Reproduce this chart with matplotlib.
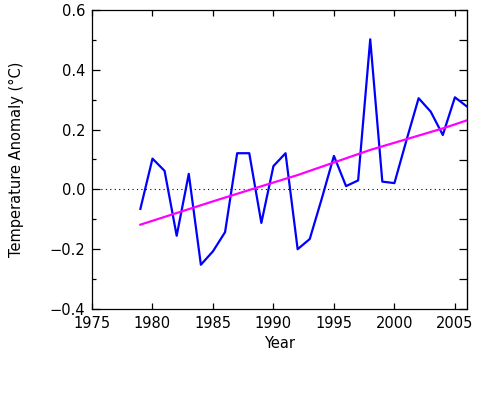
import numpy as np
import matplotlib
matplotlib.use('Agg')
import matplotlib.pyplot as plt

# yearly temperature anomaly
years = list(range(1979, 2007))
anomaly = [-0.065, 0.103, 0.062, -0.155, 0.052, -0.252, -0.207, -0.143,
           0.121, 0.121, -0.112, 0.078, 0.121, -0.200, -0.166, -0.030,
           0.112, 0.011, 0.030, 0.502, 0.026, 0.021, 0.165, 0.305,
           0.260, 0.182, 0.308, 0.277]

# trend curve, sampled points
trend_years = [1979, 1985, 1988, 1992, 1998, 2004, 2006]
trend_vals = [-0.118, -0.040, -0.002, 0.048, 0.132, 0.204, 0.231]

x_ticks = [1975, 1980, 1985, 1990, 1995, 2000, 2005]
y_ticks = [-0.4, -0.2, 0.0, 0.2, 0.4, 0.6]

plt.rcParams['font.family'] = ['DejaVu Sans']
fig = plt.figure(figsize=(5, 4), dpi=100)
ax = fig.add_axes([0.184, 0.2275, 0.75, 0.7475])

ax.axhline(0.0, color='black', lw=0.8, ls=(0, (1, 3)))
ax.plot(years, anomaly, color='#0000ff', lw=1.6)
ax.plot(trend_years, trend_vals, color='#ff00ff', lw=1.6)

ax.set_xlim(1975, 2006)
ax.set_ylim(-0.4, 0.6)
ax.set_xticks(x_ticks)
ax.set_yticks(y_ticks)
ax.set_yticks(np.arange(-0.3, 0.6, 0.2), minor=True)
ax.set_yticklabels([('%.1f' % v).replace('-', '\u2212') for v in y_ticks])
ax.tick_params(which='both', direction='in', top=True, right=False,
               labelsize=10.5, colors='black', width=0.9)
ax.tick_params(axis='x', which='major', length=4.5, pad=5)
ax.tick_params(axis='y', which='major', length=6, pad=5)
ax.tick_params(axis='y', which='minor', length=3)

sec = ax.secondary_yaxis('right')
sec.set_yticks(np.arange(-0.4, 0.61, 0.1))
sec.tick_params(direction='in', length=6, labelright=False, width=0.9)

for s in ax.spines.values():
    s.set_linewidth(0.9)

ax.set_xlabel('Year', fontsize=10.5, labelpad=4)
ax.set_ylabel('Temperature Anomaly (\u00b0C)', fontsize=10.5, labelpad=18)

fig.savefig('out.png', dpi=100)
